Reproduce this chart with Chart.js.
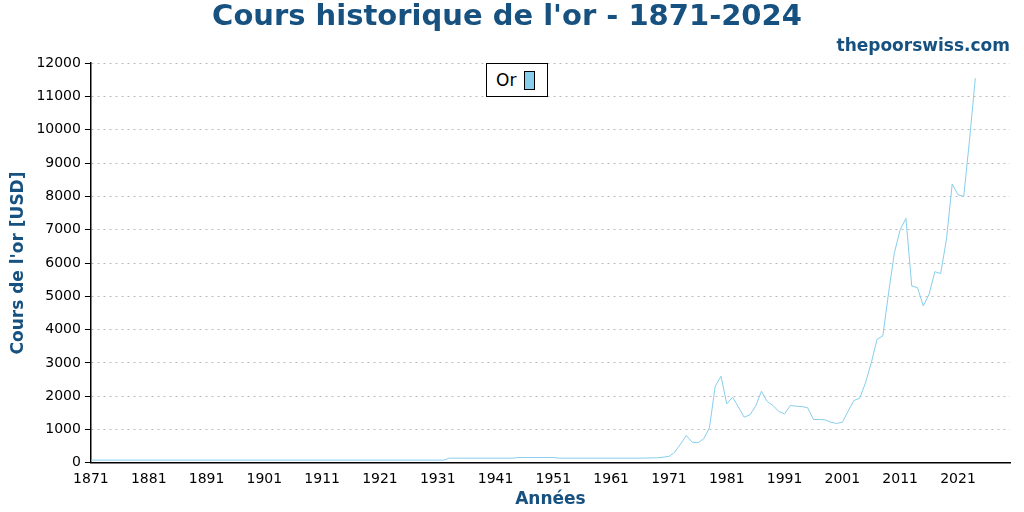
<!DOCTYPE html>
<html>
<head>
<meta charset="utf-8">
<script src="https://cdn.jsdelivr.net/npm/chart.js@4"></script>
<style>
  body { margin:0; background:#fff; font-family:"DejaVu Sans"; }
  #wrap { position:relative; width:1024px; height:512px; }
  #legend { position:absolute; left:486px; top:63px; width:62px; height:34px; border:1px solid #000; background:#fff;
    font-size:17px; box-sizing:border-box; display:flex; align-items:center; padding-left:9px; }
  #legend span { display:inline-block; width:9px; height:17px; background:#87ceeb; border:1px solid #000; margin-left:8px; }
</style>
</head>
<body>
<div id="wrap">
  <canvas id="c" width="1024" height="512"></canvas>
  <div id="legend">Or<span></span></div>
</div>
<script>
// key years and gold price in USD
const years = [1871, 1932, 1933, 1944, 1945, 1951, 1952, 1966, 1969, 1971, 1972, 1973, 1974, 1975, 1976, 1977, 1978,
  1979, 1980, 1981, 1982, 1983, 1984, 1985, 1986, 1987, 1988, 1989, 1990, 1991, 1992, 1993, 1994, 1995, 1996, 1997,
  1998, 1999, 2000, 2001, 2002, 2003, 2004, 2005, 2006, 2007, 2008, 2009, 2010, 2011, 2012, 2013, 2014, 2015, 2016,
  2017, 2018, 2019, 2020, 2021, 2022, 2023, 2024];
const prices = [80, 80, 140, 140, 160, 160, 140, 140, 150, 190, 320, 560, 820, 620, 600, 720, 1050,
  2300, 2600, 1770, 1970, 1680, 1370, 1440, 1700, 2150, 1840, 1720, 1540, 1470, 1720, 1700, 1690, 1650, 1300, 1300,
  1290, 1220, 1180, 1220, 1550, 1870, 1940, 2400, 3000, 3710, 3810, 5110, 6310, 7000, 7340, 5310, 5260, 4710, 5060,
  5740, 5680, 6700, 8370, 8050, 8000, 9700, 11550];
const xTicks = [1871, 1881, 1891, 1901, 1911, 1921, 1931, 1941, 1951, 1961, 1971, 1981, 1991, 2001, 2011, 2021];

const titleColor = '#165180';

new Chart(document.getElementById('c'), {
  type: 'line',
  data: {
    datasets: [{
      label: 'Or',
      data: years.map((y, i) => ({ x: y, y: prices[i] })),
      borderColor: '#87ceeb',
      borderWidth: 1,
      pointRadius: 0,
      tension: 0
    }]
  },
  options: {
    responsive: false,
    animation: false,
    layout: { padding: { left: 4, right: 14, top: 0, bottom: 2 } },
    plugins: {
      legend: { display: false },
      title: {
        display: true, text: "Cours historique de l'or - 1871-2024", color: titleColor,
        font: { family: 'DejaVu Sans', size: 29, weight: 'bold' }, padding: { top: 0, bottom: 0 }
      },
      subtitle: {
        display: true, text: 'thepoorswiss.com', align: 'end', color: titleColor,
        font: { family: 'DejaVu Sans', size: 17, weight: 'bold' }, padding: { top: 2, bottom: 6 }
      }
    },
    scales: {
      x: {
        type: 'linear', min: 1871, max: 2030,
        afterBuildTicks: s => { s.ticks = xTicks.map(v => ({ value: v })); },
        ticks: { color: '#000', font: { family: 'DejaVu Sans', size: 14 }, maxRotation: 0, padding: 2, callback: v => String(v) },
        grid: { display: false, drawTicks: true, tickLength: 6, tickColor: '#000' },
        border: { color: '#000', width: 1.5 },
        title: { display: true, text: 'Années', color: titleColor, font: { family: 'DejaVu Sans', size: 17, weight: 'bold' }, padding: 0 }
      },
      y: {
        min: 0, max: 12000,
        ticks: { stepSize: 1000, color: '#000', font: { family: 'DejaVu Sans', size: 14 }, padding: 4, callback: v => String(v) },
        grid: { color: '#bbb', tickColor: '#000', tickLength: 6 },
        border: { color: '#000', width: 1.5, dash: [2, 4] },
        title: { display: true, text: "Cours de l'or [USD]", color: titleColor, font: { family: 'DejaVu Sans', size: 17, weight: 'bold' }, padding: 4 }
      }
    }
  }
});
</script>
</body>
</html>
